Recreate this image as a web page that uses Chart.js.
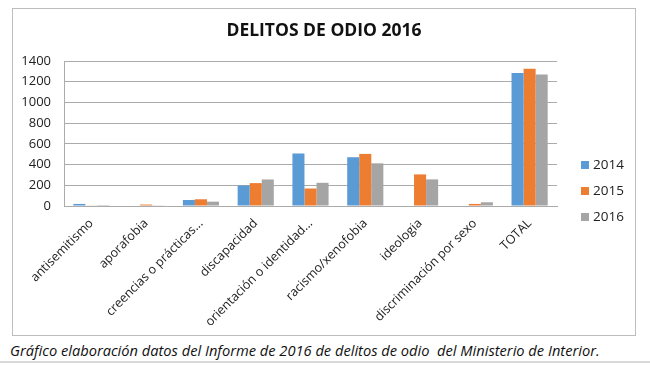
<!DOCTYPE html>
<html>
<head>
<meta charset="utf-8">
<script src="https://cdn.jsdelivr.net/npm/chart.js@4"></script>
<style>
  html, body { margin: 0; padding: 0; background: #ffffff; }
  body { width: 650px; height: 365px; position: relative; overflow: hidden; font-family: "Open Sans", sans-serif; }
  #box { position: absolute; left: 12px; top: 8px; width: 624px; height: 328px; border: 1px solid #bdbdbd; box-sizing: border-box; }
  #wrap { position: absolute; left: 13px; top: 9px; width: 622px; height: 326px; }
  #caption { position: absolute; left: 10px; top: 341px; font-style: italic; font-size: 14.65px; color: #111; white-space: pre; line-height: 18px; }
  #rule { position: absolute; left: 0; top: 361px; width: 650px; height: 2px; background: #d8d8d8; }
</style>
</head>
<body>
<div id="box"></div>
<div id="wrap"><canvas id="c" width="622" height="326"></canvas></div>
<div id="caption">Gráfico elaboración datos del Informe de 2016 de delitos de odio  del Ministerio de Interior.</div>
<div id="rule"></div>
<script>
const categories = ["antisemitismo", "aporafobia", "creencias o prácticas...", "discapacidad", "orientación o identidad...", "racismo/xenofobia", "ideologia", "discriminación por sexo", "TOTAL"];
const seriesNames = ["2014", "2015", "2016"];
const values2014 = [20, 5, 58, 198, 507, 471, 0, 0, 1283];
const values2015 = [6, 14, 65, 221, 169, 503, 305, 20, 1325];
const values2016 = [1, 3, 42, 256, 224, 412, 257, 36, 1270];
const yTicks = [0, 200, 400, 600, 800, 1000, 1200, 1400];
const colors = ["#5B9BD5", "#ED7D31", "#A5A5A5"];

const legendPlugin = {
  id: 'sideLegend',
  afterDraw(chart) {
    const ctx = chart.ctx;
    ctx.save();
    ctx.font = '13.5px "Open Sans", sans-serif';
    ctx.textBaseline = 'middle';
    ctx.textAlign = 'left';
    chart.data.datasets.forEach((ds, i) => {
      const y = 156 + i * 26;
      ctx.fillStyle = ds.backgroundColor;
      ctx.fillRect(568, y - 4, 8, 8);
      ctx.fillStyle = '#222';
      ctx.fillText(ds.label, 580, y + 0.5);
    });
    ctx.restore();
  }
};

new Chart(document.getElementById('c'), {
  type: 'bar',
  data: {
    labels: categories,
    datasets: [
      { label: seriesNames[0], data: values2014, backgroundColor: colors[0] },
      { label: seriesNames[1], data: values2015, backgroundColor: colors[1] },
      { label: seriesNames[2], data: values2016, backgroundColor: colors[2] }
    ]
  },
  options: {
    responsive: false,
    animation: false,
    devicePixelRatio: 1,
    layout: { padding: { left: 0, right: 0, top: 12, bottom: 0 } },
    datasets: { bar: { barPercentage: 1.0, categoryPercentage: 0.66 } },
    plugins: {
      legend: { display: false },
      tooltip: { enabled: false },
      title: {
        display: true,
        text: 'DELITOS DE ODIO 2016',
        color: '#111',
        font: { family: '"Open Sans", sans-serif', size: 17.5, weight: 'bold' },
        padding: { top: 0, bottom: 19 }
      }
    },
    scales: {
      x: {
        grid: { display: false, drawTicks: false },
        border: { display: true, color: '#ababab', width: 1 },
        ticks: {
          autoSkip: false, minRotation: 45, maxRotation: 45,
          color: '#222', padding: 10,
          font: { family: '"Open Sans", sans-serif', size: 12.5 }
        },
        afterFit(scale) { scale.height = 129; }
      },
      y: {
        min: 0, max: 1400,
        afterBuildTicks(scale) { scale.ticks = yTicks.map(v => ({ value: v })); },
        grid: { color: '#ababab', drawTicks: false, lineWidth: 1 },
        border: { display: true, color: '#ababab', width: 1 },
        ticks: {
          color: '#222', padding: 13,
          font: { family: '"Open Sans", sans-serif', size: 13 },
          callback: (v) => String(v)
        },
        afterFit(scale) { scale.width = 51; }
      },
      legendSpace: {
        type: 'linear',
        position: 'right',
        display: true,
        grid: { display: false, drawTicks: false },
        border: { display: false },
        ticks: { display: false },
        afterFit(scale) { scale.width = 78; }
      }
    }
  },
  plugins: [legendPlugin]
});
</script>
</body>
</html>
